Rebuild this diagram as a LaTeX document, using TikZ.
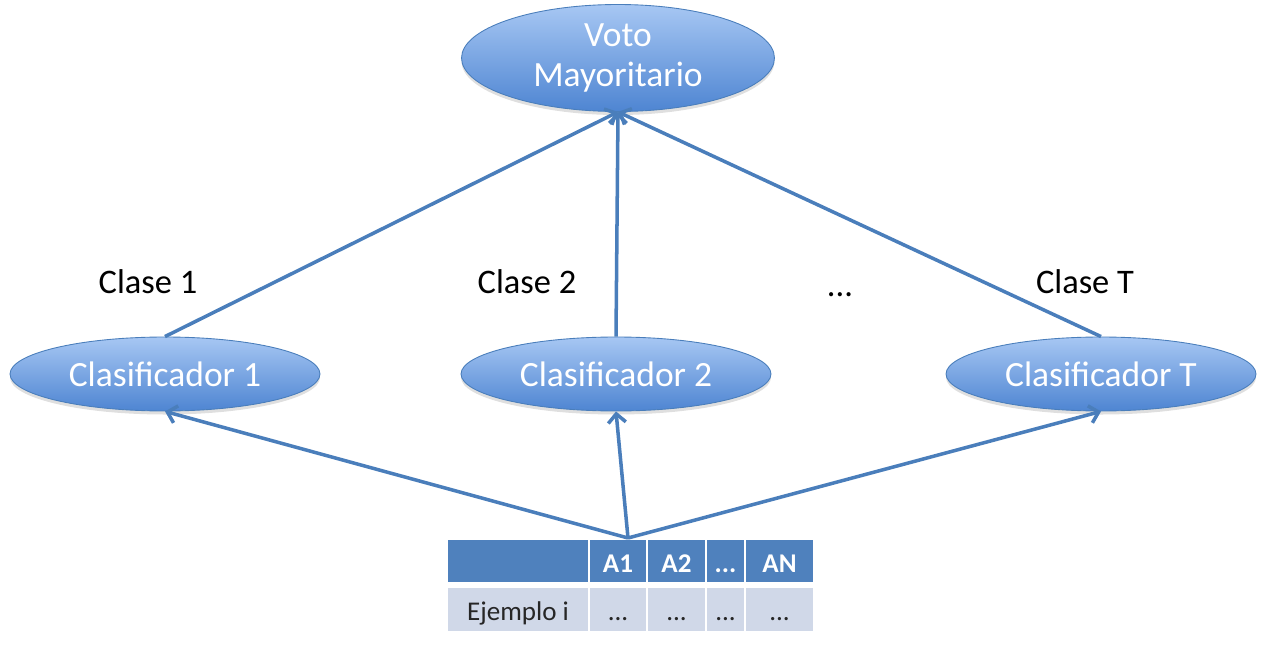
\documentclass[tikz,border=0pt]{standalone}
\usepackage{fontspec}
\setmainfont{Carlito}
\usepackage{tikz}
\usetikzlibrary{arrows.meta,shapes.geometric,shadows,positioning}
\definecolor{azulborde}{RGB}{74,126,187}
\definecolor{azulclaro}{RGB}{167,199,243}
\definecolor{azulosc}{RGB}{78,133,210}
\definecolor{azultabla}{RGB}{79,129,189}
\definecolor{grisazul}{RGB}{208,216,232}
\newcommand{\trespuntos}{...}
\tikzstyle{flecha}   = [draw=azulborde, line width=2pt, -{Straight Barb[length=5pt,width=10pt]}]
\tikzstyle{nodo}     = [ellipse, draw=azulborde, line width=0.5pt, top color=azulclaro, bottom color=azulosc,
                        text=white, inner sep=0pt, minimum width=6.2cm, minimum height=1.48cm,
                        font=\fontsize{20.2}{22.4}\selectfont,
                        drop shadow={opacity=0.25, shadow xshift=0pt, shadow yshift=-2pt}]
\tikzstyle{etiqueta} = [font=\fontsize{19.6}{22}\selectfont]
\tikzstyle{cabecera} = [fill=azultabla, draw=white, line width=1.2pt, text=white, inner sep=0pt,
                        font=\fontsize{15.4}{18}\selectfont\bfseries, minimum height=0.88cm,
                        text height=13pt, text depth=0pt]
\tikzstyle{celda}    = [fill=grisazul, draw=white, line width=1.2pt, text=black!85, inner sep=0pt,
                        font=\fontsize{15.4}{18}\selectfont, minimum height=0.9cm,
                        text height=12pt, text depth=0pt]

\begin{document}
\begin{tikzpicture}[x=0.02cm, y=-0.02cm]
        \useasboundingbox (0,0) rectangle (1271,648);
        % votacion y clasificadores
        \node[nodo, minimum width=6.26cm, minimum height=2.14cm, align=center] (voto) at (618,58) {\raisebox{-3pt}{Voto}\\\raisebox{-3pt}{Mayoritario}};
        \node[nodo] (clasif1) at (165,374) {Clasificador 1};
        \node[nodo] (clasif2) at (616,374) {Clasificador 2};
        \node[nodo] (clasifT) at (1101,374) {Clasificador T};

        \node[etiqueta] (clase1) at (148,282) {Clase 1};
        \node[etiqueta] (clase2) at (527,282) {Clase 2};
        \node[etiqueta] (puntos) at (840,295) {\trespuntos};
        \node[etiqueta] (claseT) at (1085,282) {Clase T};

        % tabla del ejemplo
        \foreach \xa/\xb/\txt [count=\i] in {447/589/{}, 589/647/A1, 647/706/A2, 706/745/\trespuntos, 745/814/AN}
        {
            \node[cabecera, minimum width={(\xb-\xa)*0.02cm}] (h\i) at ({(\xa+\xb)/2},561) {\txt};
        }
        \foreach \xa/\xb/\txt [count=\i] in {447/589/Ejemplo i, 589/647/\trespuntos, 647/706/\trespuntos, 706/745/\trespuntos, 745/814/\trespuntos}
        {
            \node[celda, minimum width={(\xb-\xa)*0.02cm}] (e\i) at ({(\xa+\xb)/2},609.5) {\txt};
        }
        \coordinate (origen) at (628,538);

        \draw[flecha] (origen) -- (clasif1.south);
        \draw[flecha] (origen) -- (clasif2.south);
        \draw[flecha] (origen) -- (clasifT.south);
        \draw[flecha] (clasif1.north) -- (voto.south);
        \draw[flecha] (clasif2.north) -- (voto.south);
        \draw[flecha] (clasifT.north) -- (voto.south);
    \end{tikzpicture}
\end{document}
